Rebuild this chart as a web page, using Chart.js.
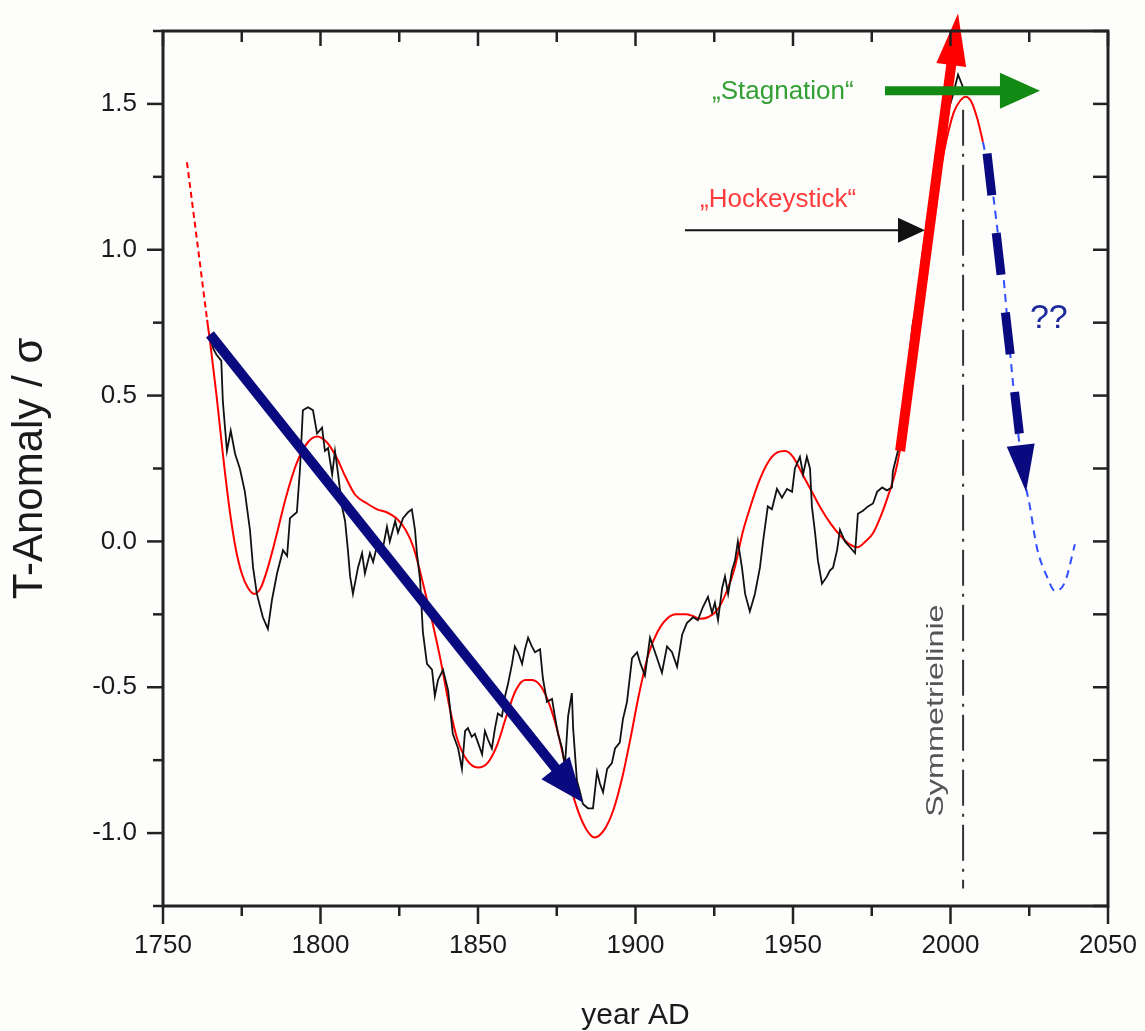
<!DOCTYPE html>
<html>
<head>
<meta charset="utf-8">
<script src="https://cdn.jsdelivr.net/npm/chart.js@4.4.1/dist/chart.umd.min.js"></script>
<style>
  html, body { margin: 0; padding: 0; background: #fdfdfc; }
  #wrap { width: 1145px; height: 1031px; }
</style>
</head>
<body>
<div id="wrap"><canvas id="chart"></canvas></div>
<script>
// ---- values ----

// measured series (black, noisy)
const blackYears = [
  1765, 1766, 1767, 1768.5, 1769, 1770.3, 1771.5, 1772.9, 1774.4, 1776, 1776.6, 1777.6, 1778.6, 1779.8,
  1781.7, 1783.3, 1784.6, 1786.2, 1788.1, 1789.4, 1790.3, 1792.5, 1793.5, 1794.4, 1796, 1797.6, 1798.9,
  1800.5, 1801.4, 1802.4, 1803.7, 1804.6, 1805.6, 1806.8, 1807.8, 1808.7, 1809.4, 1810.3, 1811.9, 1813.2,
  1814.1, 1815.7, 1816.7, 1818.3, 1819.5, 1821.1, 1822, 1823.7, 1824.6, 1826.2, 1827.8, 1829, 1830,
  1830.6, 1831.6, 1832.5, 1833.8, 1835.4, 1836.3, 1837.3, 1838.9, 1840.5, 1842, 1843.7, 1844.9, 1845.9,
  1846.8, 1848, 1849, 1850, 1851.3, 1852.2, 1853.2, 1854.4, 1855.4, 1856.3, 1857.6, 1858.6, 1859.5,
  1860.8, 1861.7, 1862.7, 1864, 1864.9, 1865.9, 1867.1, 1868.1, 1869.7, 1870.6, 1871.9, 1873.5, 1874.4,
  1875.4, 1876.7, 1877.6, 1878.6, 1879.8, 1880.2, 1881.4, 1882.4, 1883.3, 1884.9, 1886.5, 1887.8, 1888.7,
  1889.7, 1891, 1892.5, 1893.5, 1895, 1896, 1897.3, 1898.9, 1900.5, 1901.6, 1903, 1904.6, 1906.2, 1908.4,
  1910, 1911.6, 1913.2, 1914.8, 1916.3, 1918.3, 1919.8, 1921.4, 1923, 1924.3, 1925.2, 1926.2, 1927.5,
  1928.4, 1929.4, 1930.6, 1931.6, 1932.5, 1933.8, 1934.8, 1936.3, 1937.9, 1939.5, 1940.5, 1942, 1943.3,
  1944.9, 1946.5, 1948.1, 1949.7, 1950.6, 1952.2, 1953.2, 1954.4, 1955.4, 1956, 1957, 1957.9, 1959.2,
  1960.8, 1961.7, 1962.7, 1964, 1964.9, 1966.5, 1968.1, 1969.7, 1970.6, 1972.2, 1973.8, 1975.4, 1976.7,
  1978.3, 1979.8, 1981.4, 1981.7, 1983.3, 1986, 1988, 1989.4, 1991, 1993.5, 1995, 1996.7, 1998.5, 2000.5,
  2002.4, 2004.6
];
const blackValues = [
  0.70, 0.66, 0.64, 0.62, 0.48, 0.31, 0.38, 0.30, 0.25, 0.17, 0.12, 0.04, -0.09, -0.18,
  -0.26, -0.30, -0.20, -0.11, -0.03, -0.05, 0.08, 0.10, 0.25, 0.45, 0.46, 0.45, 0.37,
  0.39, 0.31, 0.32, 0.23, 0.31, 0.23, 0.12, 0.07, -0.03, -0.12, -0.18, -0.09, -0.04,
  -0.11, -0.04, -0.07, 0.00, -0.04, 0.05, 0.00, 0.07, 0.03, 0.08, 0.10, 0.11, 0.04,
  -0.04, -0.13, -0.31, -0.42, -0.44, -0.53, -0.475, -0.44, -0.51, -0.66, -0.71, -0.78, -0.65,
  -0.64, -0.67, -0.66, -0.69, -0.73, -0.65, -0.68, -0.71, -0.64, -0.59, -0.60, -0.53, -0.49,
  -0.42, -0.36, -0.38, -0.42, -0.37, -0.33, -0.36, -0.38, -0.37, -0.47, -0.55, -0.54, -0.60,
  -0.66, -0.71, -0.77, -0.60, -0.52, -0.64, -0.82, -0.86, -0.90, -0.915, -0.915, -0.79, -0.83,
  -0.86, -0.78, -0.76, -0.71, -0.69, -0.61, -0.55, -0.40, -0.38, -0.42, -0.46, -0.33, -0.38, -0.45,
  -0.36, -0.38, -0.43, -0.32, -0.28, -0.26, -0.27, -0.225, -0.19, -0.245, -0.21, -0.27, -0.16,
  -0.12, -0.18, -0.10, -0.065, 0.00, -0.09, -0.18, -0.24, -0.18, -0.09, 0.00, 0.12, 0.11,
  0.18, 0.15, 0.18, 0.17, 0.25, 0.29, 0.23, 0.29, 0.25, 0.12, 0.03, -0.065, -0.145,
  -0.12, -0.10, -0.09, -0.03, 0.04, 0.00, -0.02, -0.04, 0.095, 0.105, 0.12, 0.13, 0.17,
  0.185, 0.175, 0.185, 0.24, 0.31, 0.55, 0.745, 0.82, 0.98, 1.16, 1.30, 1.43, 1.45, 1.52,
  1.60, 1.54
];

// smooth fit (red)
const fitYears = [
  1757.6, 1760, 1762, 1764, 1765, 1767, 1769, 1771, 1773, 1775, 1777, 1779, 1781, 1783, 1786, 1789,
  1792.5, 1796, 1799, 1802, 1805, 1808, 1811, 1814.8, 1818, 1821, 1824, 1827, 1829.5, 1832, 1834,
  1836, 1838, 1841, 1843.5, 1846.5, 1850, 1853, 1856, 1859, 1862, 1865, 1867, 1869.5, 1872, 1875,
  1878, 1881, 1884, 1887, 1890, 1893, 1896, 1898.5, 1901, 1904, 1907, 1910, 1913, 1916, 1918, 1920.5,
  1923, 1926, 1929, 1931.5, 1934, 1936.5, 1939, 1942, 1945, 1947.5, 1950, 1953, 1956, 1959, 1962,
  1965, 1968, 1970.5, 1973, 1975.5, 1978, 1980, 1983, 1986, 1989, 1992, 1995, 1998, 2001, 2003,
  2004.8, 2006.5, 2008.5, 2010.3
];
const fitValues = [
  1.30, 1.10, 0.93, 0.76, 0.68, 0.50, 0.30, 0.12, -0.02, -0.11, -0.16, -0.18, -0.16, -0.10, 0.02, 0.15,
  0.27, 0.34, 0.36, 0.34, 0.29, 0.22, 0.16, 0.13, 0.11, 0.10, 0.08, 0.04, -0.02, -0.12, -0.21,
  -0.30, -0.40, -0.57, -0.68, -0.75, -0.775, -0.76, -0.70, -0.60, -0.51, -0.475, -0.475, -0.49, -0.54, -0.64,
  -0.78, -0.90, -0.98, -1.015, -0.99, -0.92, -0.80, -0.67, -0.53, -0.39, -0.31, -0.265, -0.25, -0.25, -0.255, -0.265,
  -0.26, -0.235, -0.17, -0.09, 0.03, 0.12, 0.20, 0.27, 0.305, 0.31, 0.29, 0.23, 0.17, 0.11, 0.06,
  0.02, -0.01, -0.02, 0.00, 0.03, 0.09, 0.15, 0.26, 0.45, 0.68, 0.93, 1.15, 1.34, 1.47, 1.51,
  1.525, 1.51, 1.45, 1.37
];

// mirrored continuation (blue, dashed)
const forecastYears = [2010.3, 2012, 2013.5, 2015, 2016.7, 2018.9, 2021, 2023, 2025.2, 2027.4, 2030.6, 2033.2, 2036.3, 2039.5];
const forecastValues = [1.37, 1.28, 1.19, 1.06, 0.92, 0.65, 0.42, 0.24, 0.12, -0.02, -0.12, -0.17, -0.14, -0.01];

// symmetry line
const symYears = [2004, 2004];
const symValues = [1.48, -1.19];

// labelled ticks
const xTicks = [1750, 1800, 1850, 1900, 1950, 2000, 2050];
const yTicks = [-1.0, -0.5, 0.0, 0.5, 1.0, 1.5];

// arrows: [fromYear, fromValue, toYear, toValue]
const trendDown = [1764.9, 0.71, 1883.3, -0.895];
const trendUp = [1984, 0.31, 2002.4, 1.81];
const stagnation = [1979.2, 1.545, 2028.4, 1.545];
const hockeyPointer = [1915.7, 1.067, 1991.9, 1.067];
const questionDrop = [2011.6, 1.33, 2024, 0.17];

const pts = (xs, ys) => xs.map((x, i) => ({ x: x, y: ys[i] }));
const FONT = "'Liberation Sans', Arial, sans-serif";

function arrow(ctx, x0, y0, x1, y1, o) {
  const dx = x1 - x0, dy = y1 - y0, len = Math.hypot(dx, dy);
  const ux = dx / len, uy = dy / len;
  const bx = x1 - ux * o.head, by = y1 - uy * o.head;
  ctx.save();
  ctx.strokeStyle = o.color;
  ctx.fillStyle = o.color;
  ctx.lineWidth = o.width;
  if (o.dash) ctx.setLineDash(o.dash);
  ctx.beginPath();
  ctx.moveTo(x0, y0);
  ctx.lineTo(bx + ux * 2, by + uy * 2);
  ctx.stroke();
  ctx.setLineDash([]);
  ctx.beginPath();
  ctx.moveTo(x1, y1);
  ctx.lineTo(bx - uy * o.headW / 2, by + ux * o.headW / 2);
  ctx.lineTo(bx + uy * o.headW / 2, by - ux * o.headW / 2);
  ctx.closePath();
  ctx.fill();
  ctx.restore();
}

function label(ctx, text, x, y, o) {
  ctx.save();
  ctx.translate(x, y);
  if (o.rot) ctx.rotate(o.rot);
  ctx.scale(o.sx || 1, o.sy || 1);
  ctx.font = o.font;
  ctx.fillStyle = o.color;
  ctx.textAlign = o.align || 'left';
  ctx.textBaseline = 'middle';
  ctx.fillText(text, 0, 0);
  ctx.restore();
}

const decor = {
  id: 'decor',
  beforeDraw(chart) {
    const ctx = chart.ctx;
    ctx.save();
    ctx.fillStyle = '#fdfdfc';
    ctx.fillRect(0, 0, chart.width, chart.height);
    ctx.restore();
  },
  afterDatasetsDraw(chart) {
    const { ctx, scales: { x, y } } = chart;
    const px = v => x.getPixelForValue(v), py = v => y.getPixelForValue(v);
    const draw = (a, o) => arrow(ctx, px(a[0]), py(a[1]), px(a[2]), py(a[3]), o);

    label(ctx, 'Symmetrielinie', px(1995.4), py(-0.58),
      { rot: -Math.PI / 2, sx: 1.35, font: '24px ' + FONT, color: '#555', align: 'center' });

    draw(trendDown, { color: '#0a0a80', width: 10, head: 44, headW: 36 });
    draw(hockeyPointer, { color: '#111', width: 2, head: 27, headW: 25 });
    draw(trendUp, { color: '#ff0000', width: 10, head: 52, headW: 30 });
    draw(stagnation, { color: '#138a13', width: 9, head: 40, headW: 36 });
    draw(questionDrop, { color: '#0a0a80', width: 9, head: 47, headW: 28, dash: [42, 38] });

    label(ctx, '\u201EStagnation\u201C', px(1924.3), py(1.54), { font: '26px ' + FONT, color: '#33a033' });
    label(ctx, '\u201EHockeystick\u201C', px(1920.5), py(1.17), { font: '26px ' + FONT, color: '#ff3b3b' });
    label(ctx, '??', px(2025.2), py(0.765), { font: '34px ' + FONT, color: '#1c2a9c' });
  },
  afterDraw(chart) {
    const { ctx, chartArea: a, scales: { x, y } } = chart;
    const seg = (x0, y0, x1, y1) => { ctx.beginPath(); ctx.moveTo(x0, y0); ctx.lineTo(x1, y1); ctx.stroke(); };
    ctx.save();
    ctx.strokeStyle = '#222';
    ctx.lineWidth = 3;
    ctx.strokeRect(a.left, a.top, a.right - a.left, a.bottom - a.top);
    ctx.lineWidth = 2.5;
    x.ticks.forEach(t => {
      const p = x.getPixelForValue(t.value);
      const major = xTicks.includes(t.value);
      seg(p, a.bottom, p, a.bottom + (major ? 18 : 10));
      seg(p, a.top, p, a.top + (major ? 15 : 11));
    });
    y.ticks.forEach(t => {
      const p = y.getPixelForValue(t.value);
      const major = yTicks.some(v => Math.abs(v - t.value) < 1e-6);
      seg(a.left - (major ? 16 : 10), p, a.left, p);
      seg(a.right - 15, p, a.right, p);
    });
    ctx.restore();
  }
};

Chart.defaults.font.family = FONT;

new Chart(document.getElementById('chart'), {
  type: 'line',
  data: {
    datasets: [
      {
        label: 'measured',
        data: pts(blackYears, blackValues),
        borderColor: '#111',
        borderWidth: 1.8,
        pointRadius: 0,
        tension: 0
      },
      {
        label: 'fit',
        data: pts(fitYears, fitValues),
        borderColor: '#ff0000',
        borderWidth: 2,
        pointRadius: 0,
        cubicInterpolationMode: 'monotone',
        segment: {
          borderDash: ctx => (ctx.p1.parsed.x <= 1764.5 ? [6, 4] : undefined)
        }
      },
      {
        label: 'mirror',
        data: pts(forecastYears, forecastValues),
        borderColor: '#3050ff',
        borderWidth: 2,
        borderDash: [8, 6],
        pointRadius: 0,
        cubicInterpolationMode: 'monotone'
      },
      {
        label: 'symmetry',
        data: pts(symYears, symValues),
        borderColor: '#333',
        borderWidth: 2,
        borderDash: [36, 8, 3, 8],
        pointRadius: 0
      }
    ]
  },
  options: {
    responsive: true,
    maintainAspectRatio: false,
    animation: false,
    layout: { padding: { top: 31, right: 37, left: 0, bottom: 0 } },
    plugins: {
      legend: { display: false },
      tooltip: { enabled: false }
    },
    scales: {
      x: {
        type: 'linear',
        min: 1750,
        max: 2050,
        afterFit: s => { s.height = 125; s.paddingLeft = 0; s.paddingRight = 0; },
        grid: { display: false, drawTicks: false },
        border: { display: false },
        ticks: {
          stepSize: 25,
          autoSkip: false,
          maxRotation: 0,
          padding: 24,
          color: '#1a1a1a',
          font: { size: 26 },
          callback: v => (xTicks.includes(v) ? String(v) : '')
        },
        title: {
          display: true,
          text: 'year AD',
          color: '#1a1a1a',
          font: { size: 30, lineHeight: 1 },
          padding: { top: 3, bottom: 0 }
        }
      },
      y: {
        min: -1.25,
        max: 1.75,
        afterFit: s => { s.width = 163; s.paddingTop = 0; s.paddingBottom = 0; },
        grid: { display: false, drawTicks: false },
        border: { display: false },
        ticks: {
          stepSize: 0.25,
          autoSkip: false,
          padding: 26,
          color: '#1a1a1a',
          font: { size: 26 },
          callback: v => (yTicks.some(t => Math.abs(t - v) < 1e-6) ? v.toFixed(1) : '')
        },
        title: {
          display: true,
          text: 'T-Anomaly / \u03C3',
          color: '#1a1a1a',
          font: { size: 42, lineHeight: 1 },
          padding: { top: 9, bottom: 0 }
        }
      }
    }
  },
  plugins: [decor]
});
</script>
</body>
</html>
